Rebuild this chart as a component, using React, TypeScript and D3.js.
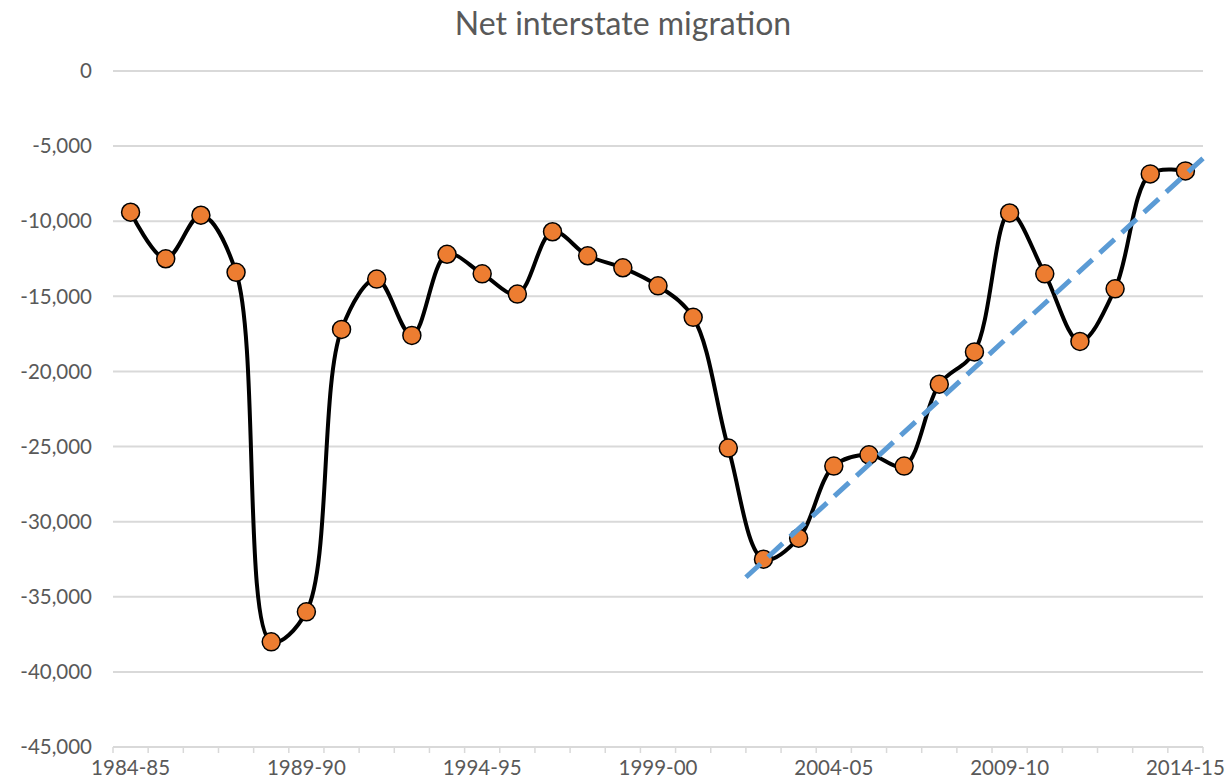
import { useMemo } from 'react';
import * as d3 from 'd3';

const years = [
	'1984-85', '1985-86', '1986-87', '1987-88', '1988-89', '1989-90', '1990-91',
	'1991-92', '1992-93', '1993-94', '1994-95', '1995-96', '1996-97', '1997-98',
	'1998-99', '1999-00', '2000-01', '2001-02', '2002-03', '2003-04', '2004-05',
	'2005-06', '2006-07', '2007-08', '2008-09', '2009-10', '2010-11', '2011-12',
	'2012-13', '2013-14', '2014-15',
];

const migration = [
	-9400, -12500, -9600, -13400, -38000, -36000, -17200, -13850, -17600, -12200,
	-13500, -14850, -10700, -12300, -13100, -14300, -16400, -25100, -32500, -31100,
	-26300, -25550, -26300, -20850, -18700, -9450, -13500, -18000, -14500, -6850,
	-6650,
];

// trendline end points (category edge position, value)
const trendIndex = [18, 31.1];
const trendValues = [-33700, -5600];

const yTicks = [0, -5000, -10000, -15000, -20000, -25000, -30000, -35000, -40000, -45000];
const labelEvery = 5;

const W = 1227;
const H = 780;
const margin = { top: 71, right: 24, bottom: 33, left: 113 };

export default function App() {
	const innerW = W - margin.left - margin.right;
	const innerH = H - margin.top - margin.bottom;

	const x = d3.scaleLinear().domain([0, years.length]).range([0, innerW]);
	const y = d3.scaleLinear().domain([0, -45000]).range([0, innerH]);
	const cx = (i: number) => x(i + 0.5);

	const linePath = useMemo(
		() =>
			d3
				.line<number>()
				.x((_, i) => cx(i))
				.y((d) => y(d))
				.curve(d3.curveCatmullRom.alpha(0.5))(migration),
		[]
	);

	const fmt = d3.format(',');

	return (
		<svg width={W} height={H} style={{ display: 'block', position: 'absolute', left: 0, top: 0 }}>
			<rect width={W} height={H} fill='white' />
			<text
				x={623}
				y={35}
				textAnchor='middle'
				fontFamily='Lato, sans-serif'
				fontSize={32}
				fill='#595959'>
				Net interstate migration
			</text>
			<g transform={`translate(${margin.left},${margin.top})`}>
				{yTicks.map((t) => (
					<g key={t}>
						<line x1={0} x2={innerW} y1={y(t)} y2={y(t)} stroke='#d9d9d9' strokeWidth={2} />
						<text
							x={-21}
							y={y(t)}
							dy='0.35em'
							textAnchor='end'
							fontFamily='Lato, sans-serif'
							fontSize={20.5}
							fill='#595959'>
							{fmt(t).replace('−', '-')}
						</text>
					</g>
				))}
				{d3.range(years.length + 1).map((i) => (
					<line
						key={i}
						x1={x(i)}
						x2={x(i)}
						y1={innerH}
						y2={innerH + 6}
						stroke='#d9d9d9'
						strokeWidth={1.5}
					/>
				))}
				{years.map((yr, i) =>
					i % labelEvery === 0 ? (
						<text
							key={yr}
							x={cx(i)}
							y={innerH + 28}
							textAnchor='middle'
							fontFamily='Lato, sans-serif'
							fontSize={20.5}
							fill='#595959'>
							{yr}
						</text>
					) : null
				)}
				<path d={linePath ?? ''} fill='none' stroke='black' strokeWidth={4} />
				{migration.map((v, i) => (
					<circle key={i} cx={cx(i)} cy={y(v)} r={9} fill='#ed7d31' stroke='black' strokeWidth={1.5} />
				))}
				<line
					x1={x(trendIndex[0])}
					y1={y(trendValues[0])}
					x2={x(trendIndex[1])}
					y2={y(trendValues[1])}
					stroke='#5b9bd5'
					strokeWidth={5}
					strokeDasharray='20 10'
				/>
			</g>
		</svg>
	);
}
